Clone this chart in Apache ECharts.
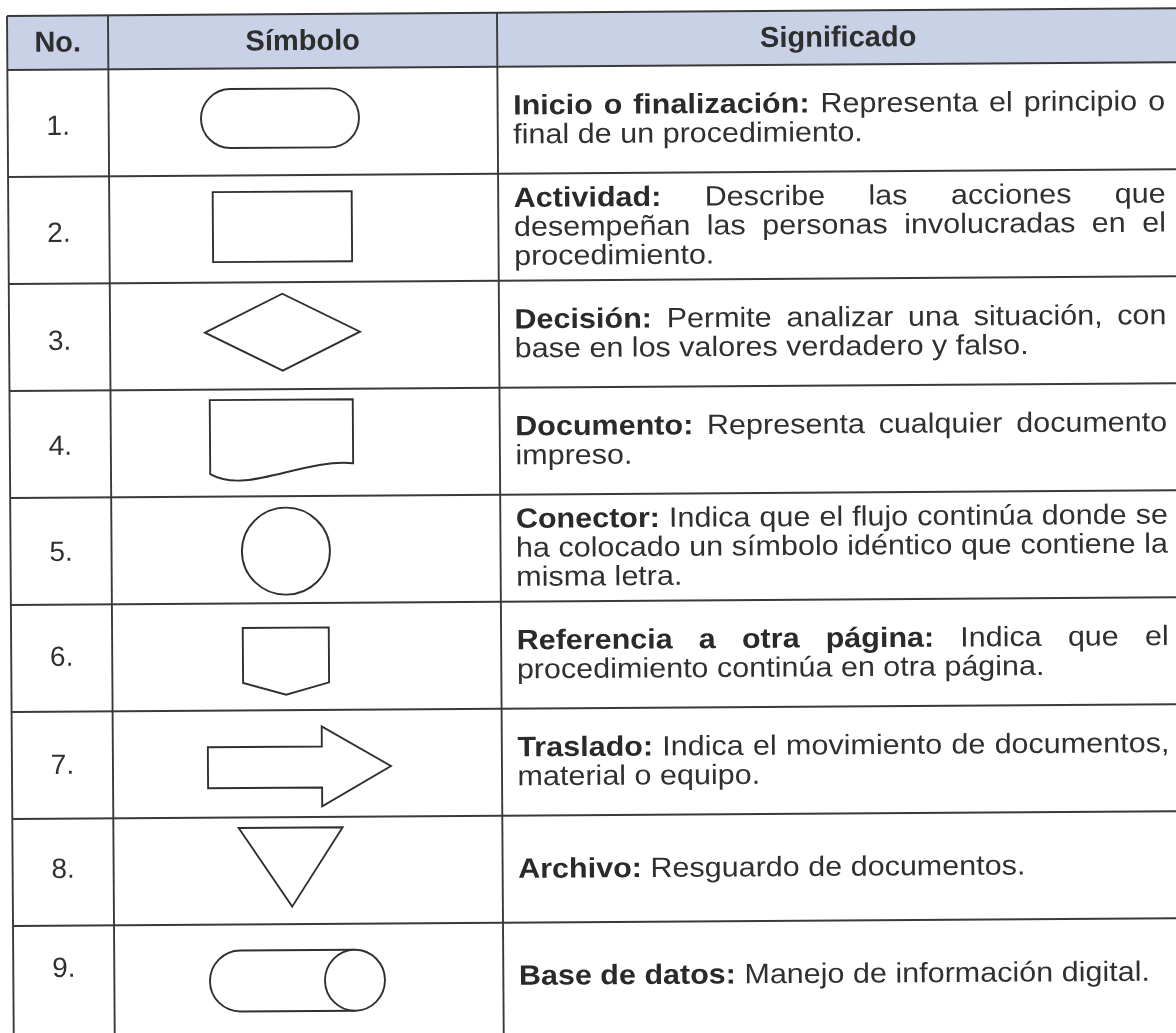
<!DOCTYPE html>
<html><head><meta charset="utf-8">
<script src="https://cdn.jsdelivr.net/npm/echarts@6/dist/echarts.min.js"></script>
<style>html,body{margin:0;padding:0;background:#fff}#c{width:1176px;height:1033px}</style>
</head><body><div id="c"></div>
<script>
// ---------------- data ----------------
const headers = ['No.', 'Símbolo', 'Significado'];
const numbers = ['1.', '2.', '3.', '4.', '5.', '6.', '7.', '8.', '9.'];
const symbols = ['terminal', 'actividad', 'decision', 'documento', 'conector', 'referencia', 'traslado', 'archivo', 'baseDatos'];
const terms = ['Inicio o finalización:', 'Actividad:', 'Decisión:', 'Documento:', 'Conector:', 'Referencia a otra página:', 'Traslado:', 'Archivo:', 'Base de datos:'];
const descriptions = [
  ['Representa el principio o', 'final de un procedimiento.'],
  ['Describe las acciones que', 'desempeñan las personas involucradas en el', 'procedimiento.'],
  ['Permite analizar una situación, con', 'base en los valores verdadero y falso.'],
  ['Representa cualquier documento', 'impreso.'],
  ['Indica que el flujo continúa donde se', 'ha colocado un símbolo idéntico que contiene la', 'misma letra.'],
  ['Indica que el', 'procedimiento continúa en otra página.'],
  ['Indica el movimiento de documentos,', 'material o equipo.'],
  ['Resguardo de documentos.'],
  ['Manejo de información digital.']
];

// ---------------- layout / style ----------------
const FX = 7, FY = 16, ROT = 0.0066;
const HEADER_H = 54, ROW_H = 107.8;
const COL1 = 101, COL2 = 490, TABLE_R = 1185;
const TEXT_L = 505.5, TEXT_W = 652, LINE_H = 29, SX = 1.09, BODY_SIZE = 28;
const SYM_CX = 275;
const FONT = '"Liberation Sans", Arial, Helvetica, sans-serif';
const INK = '#303030', GRID_INK = '#3a3a3a', HEAD_FILL = '#c9d1e7';
const numDy = [4, 4, 5, 3, 2, 0, 1, -2, -10];

const ctx = document.createElement('canvas').getContext('2d');
function mw(t, bold) { ctx.font = (bold ? 'bold ' : '') + BODY_SIZE + 'px ' + FONT; return ctx.measureText(t).width; }

function line(x1, y1, x2, y2, w) {
  return { type: 'line', shape: { x1, y1, x2, y2 }, style: { stroke: GRID_INK, lineWidth: w || 1.9 } };
}
function sStyle() { return { fill: '#fff', stroke: INK, lineWidth: 1.9 }; }

function symbolShape(kind, cx, cy) {
  switch (kind) {
    case 'terminal':
      return { type: 'rect', shape: { x: cx - 81.7, y: cy - 33, width: 158, height: 59, r: 29.5 }, style: sStyle() };
    case 'actividad':
      return { type: 'rect', shape: { x: cx - 70.5, y: cy - 37, width: 139, height: 70 }, style: sStyle() };
    case 'decision': {
      const x = cx - 1.6, y = cy - 3.5;
      return { type: 'polygon', shape: { points: [[x - 77.5, y], [x, y - 38.5], [x + 77.5, y], [x, y + 38.5]] }, style: sStyle() };
    }
    case 'documento': {
      const l = cx - 74.8, r = cx + 68.2, t = cy - 43;
      const d = `M${l} ${t} L${r} ${t} L${r} ${cy + 21} C${cx + 16.7} ${cy + 16} ${cx - 38.3} ${cy + 52} ${l} ${cy + 31} Z`;
      return { type: 'path', shape: { pathData: d }, style: sStyle() };
    }
    case 'conector':
      return { type: 'ellipse', shape: { cx: cx + 0.4, cy: cy + 1.5, rx: 44, ry: 43.5 }, style: sStyle() };
    case 'referencia': {
      const x = cx - 0.3;
      return { type: 'polygon', shape: { points: [[x - 43, cy - 29], [x + 43, cy - 29], [x + 43, cy + 26], [x, cy + 38], [x - 43, cy + 26]] }, style: sStyle() };
    }
    case 'traslado':
      return { type: 'polygon', shape: { points: [[cx - 79, cy - 17], [cx + 35, cy - 17], [cx + 35, cy - 37], [cx + 104, cy + 3], [cx + 35, cy + 43], [cx + 35, cy + 24], [cx - 79, cy + 24]] }, style: sStyle() };
    case 'archivo':
      return { type: 'polygon', shape: { points: [[cx - 48.7, cy - 43], [cx + 55.3, cy - 43], [cx + 4.3, cy + 36]] }, style: sStyle() };
    case 'baseDatos': {
      const t = cy - 27.5, b = cy + 33.5, ry = 30.5, xl = cx - 47.9, xr = cx + 66.6;
      const d = `M${xr} ${t} L${xl} ${t} A30.5 ${ry} 0 0 0 ${xl} ${b} L${xr} ${b}`;
      return { type: 'group', children: [
        { type: 'path', shape: { pathData: d }, style: { fill: '#fff', stroke: INK, lineWidth: 1.9 } },
        { type: 'ellipse', shape: { cx: xr, cy: cy + 3, rx: 30, ry: ry }, style: sStyle() }
      ] };
    }
  }
  return null;
}

function descText(i, cy) {
  const raw = [terms[i] + ' ' + descriptions[i][0]].concat(descriptions[i].slice(1));
  const termWords = terms[i].split(' ').length;
  const n = raw.length;
  const Wu = TEXT_W / SX;
  const space = mw(' ', false);
  const kids = [];
  raw.forEach((ln, k) => {
    const words = ln.split(/\s+/).filter(Boolean);
    const bolds = words.map((w, j) => k === 0 && j < termWords);
    const widths = words.map((w, j) => mw(w, bolds[j]));
    const total = widths.reduce((a, b) => a + b, 0);
    const justify = k < n - 1 && words.length > 1;
    const gap = justify ? (Wu - total) / (words.length - 1) : space;
    let x = 0;
    const y = cy + (k - (n - 1) / 2) * LINE_H + 1;
    words.forEach((w, j) => {
      kids.push({ type: 'text', x: x, y: y, style: {
        text: w, fontSize: BODY_SIZE, fontWeight: bolds[j] ? 'bold' : 'normal', fontFamily: FONT,
        fill: bolds[j] ? '#2a2a2a' : INK, textAlign: 'left', align: 'left', textVerticalAlign: 'middle', verticalAlign: 'middle' } });
      x += widths[j] + gap;
    });
  });
  return { type: 'group', x: FX + TEXT_L, y: 0, scaleX: SX, originX: 0, children: kids };
}

function renderItem(params, api) {
  const i = api.value(1);
  const c = api.coord([0, i]);
  const bh = api.size([0, 1])[1];
  const cy = c[1], top = cy - bh / 2, bot = cy + bh / 2;
  const X = fx => FX + fx;
  const ch = [];
  if (i === 0) {
    ch.push({ type: 'rect', shape: { x: X(0), y: FY, width: TABLE_R, height: HEADER_H }, style: { fill: HEAD_FILL } });
    ch.push(line(X(0), FY, X(TABLE_R), FY, 2));
    ch.push(line(X(0), FY + HEADER_H, X(TABLE_R), FY + HEADER_H, 2));
    [0, COL1, COL2].forEach(fx => ch.push(line(X(fx), FY, X(fx), FY + HEADER_H)));
    const hc = [COL1 / 2, (COL1 + COL2) / 2, (COL2 + 1172) / 2];
    headers.forEach((h, j) => ch.push({ type: 'text', x: X(hc[j]), y: FY + HEADER_H / 2 + 1, style: {
      text: h, fontSize: 29, fontWeight: 'bold', fontFamily: FONT, fill: '#2e2e2e',
      textAlign: 'center', align: 'center', textVerticalAlign: 'middle', verticalAlign: 'middle' } }));
  }
  if (i < numbers.length - 1) ch.push(line(X(0), bot, X(TABLE_R), bot));
  [0, COL1, COL2].forEach(fx => ch.push(line(X(fx), top, X(fx), i < numbers.length - 1 ? bot : bot + 20)));
  ch.push({ type: 'text', x: X(COL1 / 2), y: cy + numDy[i], style: {
    text: numbers[i], fontSize: 28, fontFamily: FONT, fill: INK,
    textAlign: 'center', align: 'center', textVerticalAlign: 'middle', verticalAlign: 'middle' } });
  const s = symbolShape(symbols[i], X(SYM_CX), cy);
  if (s) ch.push(s);
  ch.push(descText(i, cy));
  return { type: 'group', rotation: ROT, originX: FX, originY: FY, children: ch };
}

const chart = echarts.init(document.getElementById('c'), null, { renderer: 'canvas' });
chart.setOption({
  backgroundColor: '#ffffff',
  animation: false,
  grid: { left: FX, top: FY + HEADER_H, width: 1169, height: ROW_H * numbers.length },
  xAxis: { type: 'value', min: 0, max: 1169, show: false },
  yAxis: { type: 'category', data: numbers, inverse: true, show: false },
  series: [{
    type: 'custom', clip: false, silent: true,
    renderItem: renderItem,
    data: numbers.map((n, i) => [0, i])
  }]
});
</script>
</body></html>
